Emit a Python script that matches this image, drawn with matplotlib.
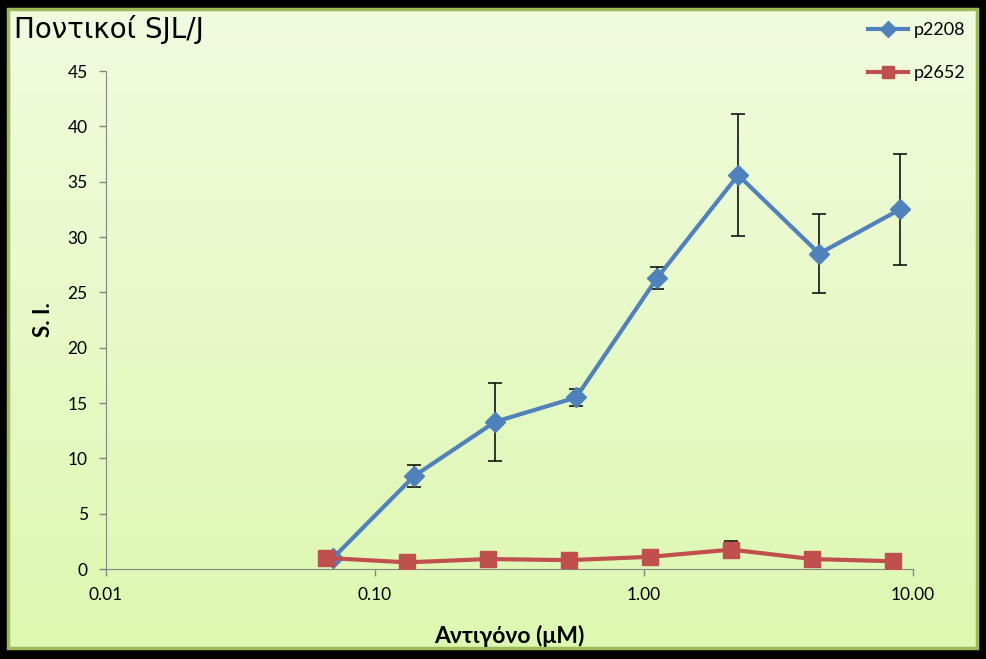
import numpy as np
import matplotlib
matplotlib.use("Agg")
from matplotlib import pyplot as plt
from matplotlib.patches import Rectangle
from matplotlib.lines import Line2D

plt.rcParams['font.family'] = ['Lato', 'DejaVu Sans']

# concentrations (uM)
conc_p2208 = [0.07, 0.14, 0.28, 0.56, 1.12, 2.24, 4.48, 8.96]
conc_p2652 = [0.066, 0.132, 0.264, 0.527, 1.054, 2.11, 4.22, 8.43]

si_p2208 = [1.0, 8.4, 13.3, 15.5, 26.3, 35.6, 28.5, 32.5]
err_p2208 = [0.0, 1.0, 3.5, 0.75, 1.0, 5.5, 3.6, 5.0]

si_p2652 = [1.0, 0.6, 0.9, 0.8, 1.1, 1.75, 0.9, 0.7]
err_p2652 = [0.1, 0.1, 0.1, 0.1, 0.2, 0.8, 0.1, 0.1]

y_ticks = [0, 5, 10, 15, 20, 25, 30, 35, 40, 45]
x_ticks = [0.01, 0.1, 1, 10]
x_ticklabels = ['0.01', '0.10', '1.00', '10.00']

blue = '#4F81BD'
red = '#C0504D'

W, H = 986, 659
fig = plt.figure(figsize=(W / 100, H / 100), dpi=100)
fig.patch.set_facecolor('black')

# background panel with green gradient
bg = fig.add_axes([0, 0, 1, 1])
bg.set_xlim(0, W)
bg.set_ylim(H, 0)
bg.axis('off')
top = np.array([241, 251, 222]) / 255
bot = np.array([221, 248, 176]) / 255
t = np.linspace(0, 1, 256)[:, None, None]
grad = top * (1 - t) + bot * t
grad = np.repeat(grad, 2, axis=1)
bg.imshow(grad, extent=(8, 977, 648, 9), aspect='auto', zorder=0)
bg.add_patch(Rectangle((8, 9), 969, 639, fill=False, edgecolor='#9BBB59',
                       linewidth=2.5, zorder=1))

ax = fig.add_axes([105.7 / W, 1 - 569 / H, (913 - 105.7) / W, (569 - 71) / H])
ax.set_facecolor('none')

ax.errorbar(conc_p2208, si_p2208, yerr=err_p2208, color=blue, lw=3,
            marker='D', ms=10, ecolor='black', elinewidth=1.1, capsize=5,
            capthick=1.1, zorder=3)
ax.errorbar(conc_p2652, si_p2652, yerr=err_p2652, color=red, lw=3,
            marker='s', ms=11, ecolor='black', elinewidth=1.1, capsize=5,
            capthick=1.1, zorder=4)

ax.set_xscale('log')
ax.set_xlim(0.01, 10)
ax.set_ylim(0, 45)
ax.set_xticks(x_ticks)
ax.set_xticklabels(x_ticklabels)
ax.minorticks_off()
ax.set_yticks(y_ticks)
ax.tick_params(axis='both', colors='#868686', labelcolor='black', labelsize=12.5,
               length=5, width=1)
ax.tick_params(axis='x', pad=8)
ax.tick_params(axis='y', pad=8)
for side in ['top', 'right']:
    ax.spines[side].set_visible(False)
for side in ['left', 'bottom']:
    ax.spines[side].set_color('#868686')

ax.set_ylabel('S. I.', fontsize=16, fontweight='bold', labelpad=10)
ax.set_xlabel('Αντιγόνο (μM)', fontsize=16.5, fontweight='bold', labelpad=16)

fig.text(14 / W, 1 - 30 / H, 'Ποντικοί SJL/J', fontsize=20, va='center',
         ha='left', fontfamily='DejaVu Sans')

handles = [Line2D([], [], color=blue, lw=3, marker='D', ms=8),
           Line2D([], [], color=red, lw=3, marker='s', ms=9)]
ax.legend(handles, ['p2208', 'p2652'], loc='upper left',
          bbox_to_anchor=(852 / W, 1 - 6 / H),
          bbox_transform=fig.transFigure, frameon=False, fontsize=13,
          handlelength=2.2, labelspacing=1.5, handletextpad=0.3)

fig.savefig('out.png', dpi=100, facecolor=fig.get_facecolor())
